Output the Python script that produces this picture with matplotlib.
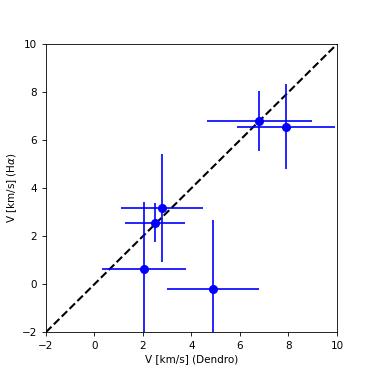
import matplotlib
matplotlib.use("Agg")
import matplotlib.pyplot as plt

# ---- data ----
v_dendro = [6.80, 7.90, 2.79, 2.50, 2.03, 4.87]
v_halpha = [6.79, 6.56, 3.17, 2.56, 0.64, -0.22]
err_dendro = [2.17, 2.02, 1.70, 1.25, 1.74, 1.90]
err_halpha = [1.25, 1.77, 2.24, 0.80, 2.78, 2.91]

fig = plt.figure(figsize=(3.74, 3.74), dpi=100)
ax = fig.add_axes([0.123, 0.112, 0.778, 0.770])

ax.plot([-2, 10], [-2, 10], 'k--', lw=1.5)
ax.errorbar(v_dendro, v_halpha, xerr=err_dendro, yerr=err_halpha,
            fmt='o', color='blue', ms=5.5, elinewidth=1.2, capsize=0)

ax.set_xlim(-2, 10)
ax.set_ylim(-2, 10)
ax.set_xticks(range(-2, 11, 2))
ax.set_yticks(range(-2, 11, 2))
ax.tick_params(labelsize=7.5, length=3, width=0.6)
for s in ax.spines.values():
    s.set_linewidth(0.6)
ax.set_xlabel("V [km/s] (Dendro)", fontsize=7.5, labelpad=2)
ax.set_ylabel(r"V [km/s] (H$\alpha$)", fontsize=7.5, labelpad=2)

fig.savefig("out.png", dpi=100)
